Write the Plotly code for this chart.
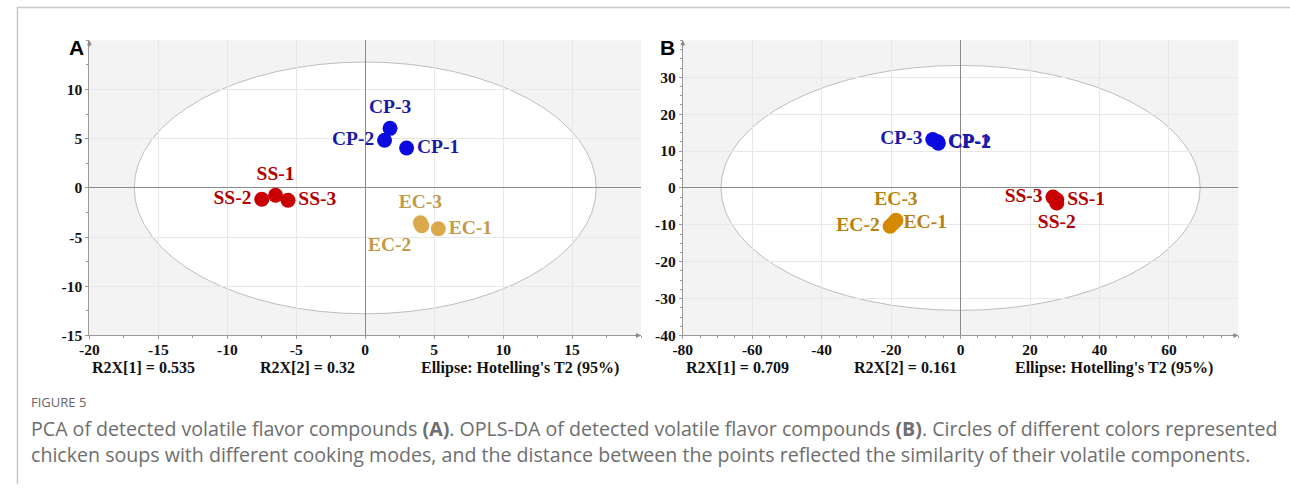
import plotly.graph_objects as go

# ---------------- data ----------------
samples = ["CP-1", "CP-2", "CP-3", "SS-1", "SS-2", "SS-3", "EC-1", "EC-2", "EC-3"]
groups = ["CP", "CP", "CP", "SS", "SS", "SS", "EC", "EC", "EC"]

# Panel A: PCA scores
pca_t1 = [3.0, 1.4, 1.8, -6.5, -7.5, -5.6, 5.3, 4.1, 4.0]
pca_t2 = [4.05, 4.85, 6.05, -0.75, -1.15, -1.25, -4.15, -3.85, -3.55]
pca_pos = ["middle right", "middle left", "top center",
           "top center", "middle left", "middle right",
           "middle right", "bottom left", "top center"]

# Panel B: OPLS-DA scores
opls_t1 = [-6.6, -6.4, -8.0, 27.7, 27.7, 26.6, -19.4, -20.3, -18.6]
opls_t2 = [12.5, 12.1, 13.1, -3.2, -4.1, -2.5, -9.6, -10.4, -8.8]
opls_pos = ["middle right", "middle right", "middle left",
            "middle right", "bottom center", "middle left",
            "middle right", "middle left", "top center"]

# Hotelling's T2 ellipse semi-axes
ellipse_a = [16.75, 12.8]
ellipse_b = [69.0, 33.2]

# axis ranges / ticks
xrange_a, yrange_a = [-20, 20], [-15, 15]
xrange_b, yrange_b = [-80, 80], [-40, 40]
xticks_a = [-20, -15, -10, -5, 0, 5, 10, 15]
yticks_a = [-15, -10, -5, 0, 5, 10]
xticks_b = [-80, -60, -40, -20, 0, 20, 40, 60]
yticks_b = [-40, -30, -20, -10, 0, 10, 20, 30]

stats_a = ["R2X[1] = 0.535", "R2X[2] = 0.32", "Ellipse: Hotelling's T2 (95%)"]
stats_b = ["R2X[1] = 0.709", "R2X[2] = 0.161", "Ellipse: Hotelling's T2 (95%)"]

caption_title = "FIGURE 5"
caption_lines = [
    "PCA of detected volatile flavor compounds <b>(A)</b>. OPLS-DA of detected volatile flavor compounds <b>(B)</b>. Circles of different colors represented",
    "chicken soups with different cooking modes, and the distance between the points reflected the similarity of their volatile components.",
]

# ---------------- styles ----------------
W, H = 1290, 492
marker_a = {"CP": "#0b0be0", "SS": "#c80000", "EC": "#d9a94c"}
text_a = {"CP": "#1a1aa8", "SS": "#b00000", "EC": "#c49a48"}
marker_b = {"CP": "#0b0be0", "SS": "#c80000", "EC": "#d38a00"}
text_b = {"CP": "#1a1aa8", "SS": "#b00000", "EC": "#b8800c"}

SERIF = "Liberation Serif"


def px_x(p):
    return p / W


def px_y(p):
    return 1 - p / H


def tick_text(vals):
    return ["<b>%d</b>" % v if v >= 0 else "<b>-%d</b>" % abs(v) for v in vals]


dom_ax = [px_x(80), px_x(636)]
dom_bx = [px_x(678), px_x(1238)]
dom_y = [px_y(341), px_y(41)]

fig = go.Figure()


def add_panel(xs, ys, pos, mcol, tcol, xa, ya):
    for g in ["CP", "SS", "EC"]:
        idx = [i for i, gg in enumerate(groups) if gg == g]
        fig.add_trace(go.Scatter(
            x=[xs[i] for i in idx], y=[ys[i] for i in idx],
            text=["<b>%s</b>" % samples[i] for i in idx],
            textposition=[pos[i] for i in idx],
            mode="markers+text",
            marker=dict(size=15, color=mcol[g], line=dict(width=0)),
            textfont=dict(family=SERIF, size=19.5, color=tcol[g]),
            xaxis=xa, yaxis=ya, showlegend=False, cliponaxis=False,
        ))


add_panel(pca_t1, pca_t2, pca_pos, marker_a, text_a, "x", "y")
add_panel(opls_t1, opls_t2, opls_pos, marker_b, text_b, "x2", "y2")

axis_common = dict(
    showgrid=True, gridcolor="#e8e8e8", gridwidth=1,
    zeroline=True, zerolinecolor="#8a8a8a", zerolinewidth=1,
    showline=True, linecolor="#9a9a9a", linewidth=1,
    ticks="outside", ticklen=3, tickcolor="#9a9a9a",
    tickfont=dict(family=SERIF, size=15.5, color="#111"),
    fixedrange=True,
)


def minor(step):
    return dict(dtick=step, ticklen=2, tickcolor="#9a9a9a", showgrid=False)


fig.update_layout(
    width=W, height=H,
    margin=dict(l=0, r=0, t=0, b=0),
    paper_bgcolor="white", plot_bgcolor="#f3f3f3",
    xaxis=dict(domain=dom_ax, range=xrange_a, tickvals=xticks_a, ticktext=tick_text(xticks_a),
               anchor="y", minor=minor(2.5), ticklabelstandoff=-3, **axis_common),
    yaxis=dict(domain=dom_y, range=yrange_a, tickvals=yticks_a, ticktext=tick_text(yticks_a),
               anchor="x", minor=minor(2.5), **axis_common),
    xaxis2=dict(domain=dom_bx, range=xrange_b, tickvals=xticks_b, ticktext=tick_text(xticks_b),
                anchor="y2", minor=minor(5), ticklabelstandoff=-3, **axis_common),
    yaxis2=dict(domain=dom_y, range=yrange_b, tickvals=yticks_b, ticktext=tick_text(yticks_b),
                anchor="x2", minor=minor(2.5), **axis_common),
)

# ellipses
for (a, b), xr, yr in [(ellipse_a, "x", "y"), (ellipse_b, "x2", "y2")]:
    fig.add_shape(type="circle", xref=xr, yref=yr, x0=-a, x1=a, y0=-b, y1=b,
                  fillcolor="white", line=dict(color="#bdbdbd", width=1), layer="below")

# frame lines of the figure box
fig.add_shape(type="line", xref="paper", yref="paper", x0=px_x(7), x1=1, y0=px_y(7.5), y1=px_y(7.5),
              line=dict(color="#c8c8c8", width=1.5))
fig.add_shape(type="line", xref="paper", yref="paper", x0=px_x(7.5), x1=px_x(7.5), y0=0, y1=px_y(7),
              line=dict(color="#c8c8c8", width=1.5))

# axis arrows
for xd in [dom_ax, dom_bx]:
    fig.add_annotation(xref="paper", yref="paper", x=xd[1], y=dom_y[0], ax=-8, ay=0,
                       text="", showarrow=True, arrowhead=2, arrowsize=1, arrowwidth=1,
                       arrowcolor="#8a8a8a")
    fig.add_annotation(xref="paper", yref="paper", x=xd[0], y=dom_y[1], ax=0, ay=8,
                       text="", showarrow=True, arrowhead=2, arrowsize=1, arrowwidth=1,
                       arrowcolor="#8a8a8a")

# panel letters
for letter, xp in [("A", 67), ("B", 663)]:
    fig.add_annotation(xref="paper", yref="paper", x=px_x(xp), y=px_y(48), text="<b>%s</b>" % letter,
                       showarrow=False, xanchor="center", yanchor="middle",
                       font=dict(family="Liberation Sans", size=21, color="black"))

# statistics under each panel
for stats, xs in [(stats_a, [81, 250, 412]), (stats_b, [679, 849, 1011])]:
    for s, xp in zip(stats, xs):
        fig.add_annotation(xref="paper", yref="paper", x=px_x(xp), y=px_y(374), text="<b>%s</b>" % s,
                           showarrow=False, xanchor="left", yanchor="middle",
                           font=dict(family=SERIF, size=16, color="#111"))

# caption
fig.add_annotation(xref="paper", yref="paper", x=px_x(19), y=px_y(409), text=caption_title,
                   showarrow=False, xanchor="left", yanchor="middle",
                   font=dict(family="Open Sans", size=13, color="#666"))
for line, yp in zip(caption_lines, [436, 462]):
    fig.add_annotation(xref="paper", yref="paper", x=px_x(19), y=px_y(yp), text=line,
                       showarrow=False, xanchor="left", yanchor="middle",
                       font=dict(family="Open Sans", size=19.6, color="#6e6e6e"))

fig.write_html("out.html")
